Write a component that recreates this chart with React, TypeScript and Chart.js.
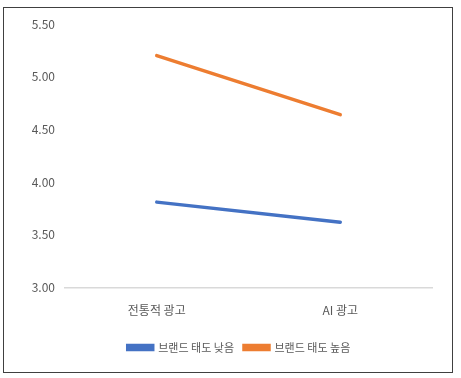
import React, { useEffect, useRef } from "react";
import { Chart, registerables } from "chart.js";

Chart.register(...registerables);

const categories = ["전통적 광고", "AI 광고"];
const lowSeriesName = "브랜드 태도 낮음";
const highSeriesName = "브랜드 태도 높음";
const lowValues = [3.81, 3.62];
const highValues = [5.2, 4.64];
const yMin = 3.0;
const yMax = 5.5;
const yStep = 0.5;

const FONT = '"Liberation Sans Narrow", "Noto Sans CJK KR", sans-serif';
const TEXT = "#595959";

const legendShift = {
  id: "legendShift",
  afterLayout(chart: any) {
    if (chart.legend) {
      chart.legend.left += 23;
      chart.legend.right += 23;
    }
  },
};

export default function App() {
  const ref = useRef<HTMLCanvasElement>(null);
  useEffect(() => {
    if (!ref.current) return;
    const chart = new Chart(ref.current, {
      type: "line",
      data: {
        labels: categories,
        datasets: [
          {
            label: lowSeriesName,
            data: lowValues,
            borderColor: "#4472C4",
            backgroundColor: "#4472C4",
            borderWidth: 3.5,
            borderCapStyle: "round",
            pointRadius: 0,
            pointHoverRadius: 0,
          },
          {
            label: highSeriesName,
            data: highValues,
            borderColor: "#ED7D31",
            backgroundColor: "#ED7D31",
            borderWidth: 3.5,
            borderCapStyle: "round",
            pointRadius: 0,
            pointHoverRadius: 0,
          },
        ],
      },
      plugins: [legendShift],
      options: {
        animation: false,
        responsive: false,
        maintainAspectRatio: false,
        layout: { padding: { left: 0, right: 29, top: 24, bottom: 15 } },
        plugins: {
          tooltip: { enabled: false },
          legend: {
            position: "bottom",
            labels: {
              boxWidth: 25,
              boxHeight: 4,
              padding: 10,
              color: TEXT,
              font: { family: FONT, size: 11 },
            },
          },
        },
        scales: {
          x: {
            offset: true,
            grid: { display: false, drawTicks: false },
            border: { display: true, color: "#D9D9D9", width: 1.5 },
            ticks: { color: TEXT, font: { family: FONT, size: 12 }, padding: 16, maxRotation: 0 },
            afterFit: (s: any) => {
              s.height = 44.5;
            },
          },
          y: {
            min: yMin,
            max: yMax,
            grid: { display: false, drawTicks: false },
            border: { display: false },
            ticks: {
              stepSize: yStep,
              color: TEXT,
              padding: 10,
              font: { family: FONT, size: 12 },
              callback: (v: any) => Number(v).toFixed(2),
            },
            afterFit: (s: any) => {
              s.width = 65;
            },
          },
        },
      },
    });
    return () => chart.destroy();
  }, []);
  return (
    <div style={{ position: "absolute", left: 0, top: 0, width: 461, height: 378, background: "#fff" }}>
      <div
        style={{
          position: "absolute",
          left: 3,
          top: 7,
          width: 448,
          height: 364,
          border: "1px solid #404040",
        }}
      />
      <canvas ref={ref} width={461} height={378} style={{ position: "absolute", left: 0, top: 0 }} />
    </div>
  );
}
